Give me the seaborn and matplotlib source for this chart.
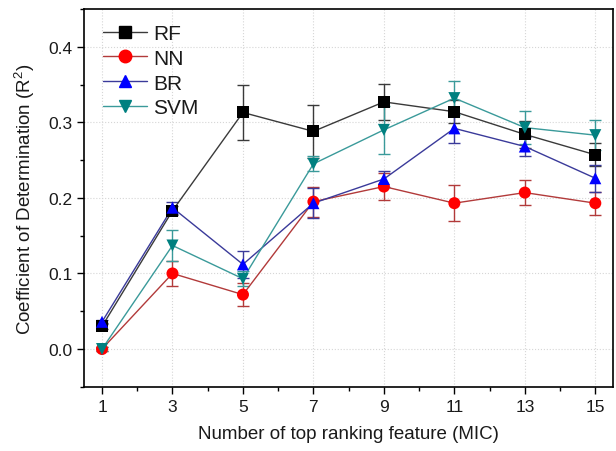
import matplotlib
matplotlib.use("Agg")
from matplotlib import pyplot as plt
from matplotlib.lines import Line2D
from matplotlib.ticker import MultipleLocator
import seaborn as sns
import numpy as np
import pandas as pd

# data
n_features = [1, 3, 5, 7, 9, 11, 13, 15]
rf = [0.030, 0.183, 0.313, 0.288, 0.327, 0.314, 0.284, 0.257]
rf_err = [0.004, 0.006, 0.036, 0.035, 0.024, 0.015, 0.018, 0.015]
nn = [0.000, 0.100, 0.072, 0.195, 0.215, 0.193, 0.207, 0.193]
nn_err = [0.003, 0.017, 0.015, 0.020, 0.018, 0.024, 0.017, 0.015]
br = [0.036, 0.187, 0.112, 0.193, 0.225, 0.292, 0.268, 0.226]
br_err = [0.003, 0.008, 0.018, 0.020, 0.010, 0.020, 0.012, 0.018]
svm = [0.000, 0.137, 0.093, 0.245, 0.290, 0.332, 0.293, 0.283]
svm_err = [0.003, 0.020, 0.010, 0.010, 0.032, 0.022, 0.022, 0.020]

methods = ["RF", "NN", "BR", "SVM"]
values = {"RF": (rf, rf_err), "NN": (nn, nn_err), "BR": (br, br_err), "SVM": (svm, svm_err)}

rows = []
for m in methods:
    for x, v, e in zip(n_features, values[m][0], values[m][1]):
        rows.append({"K": x, "Value": v, "Err": e, "Method": m})
df = pd.DataFrame(rows)

line_col = {"RF": "#3a3a3a", "NN": "#b23a3a", "BR": "#3a3a9a", "SVM": "#3a9a9a"}
mark_col = {"RF": "#000000", "NN": "#ff0000", "BR": "#0000ff", "SVM": "#008080"}
markers = {"RF": "s", "NN": "o", "BR": "^", "SVM": "v"}

sns.set_style("ticks")
plt.rcParams['font.family'] = ['Liberation Sans', 'DejaVu Sans']
plt.rcParams['mathtext.fontset'] = 'custom'
plt.rcParams['mathtext.rm'] = 'Liberation Sans'
plt.rcParams['text.color'] = '#1a1a1a'
plt.rcParams['axes.labelcolor'] = '#1a1a1a'
plt.rcParams['xtick.color'] = 'black'
plt.rcParams['ytick.color'] = 'black'
plt.rcParams['xtick.labelcolor'] = '#1a1a1a'
plt.rcParams['ytick.labelcolor'] = '#1a1a1a'

fig = plt.figure(figsize=(6.16, 4.52), dpi=100)
ax = fig.add_axes([0.137, 0.142, 0.858, 0.836])

ax.grid(True, color="#d6d6d6", linestyle=":", linewidth=0.8)
ax.set_axisbelow(True)

for m in methods:
    sub = df[df.Method == m]
    ax.errorbar(sub.K, sub.Value, yerr=sub.Err, fmt="none",
                ecolor=line_col[m], elinewidth=1, capsize=4, capthick=1, zorder=2)

sns.lineplot(data=df, x="K", y="Value", hue="Method", palette=line_col,
             linewidth=1, legend=False, ax=ax, zorder=3)
sns.scatterplot(data=df, x="K", y="Value", hue="Method", style="Method",
                palette=mark_col, markers=markers, s=75, linewidth=0,
                legend=False, ax=ax, zorder=4)

ax.set_xlim(0.5, 15.5)
ax.set_ylim(-0.05, 0.45)
ax.set_xticks(n_features)
ax.xaxis.set_minor_locator(MultipleLocator(1))
ax.yaxis.set_major_locator(MultipleLocator(0.1))
ax.yaxis.set_minor_locator(MultipleLocator(0.05))
ax.tick_params(which="major", direction="out", length=5, width=1, labelsize=12.5)
ax.tick_params(which="minor", direction="out", length=3, width=1)
for s in ax.spines.values():
    s.set_linewidth(1.2)
    s.set_color("black")
    s.set_visible(True)

ax.set_xlabel("Number of top ranking feature (MIC)", fontsize=13.5, labelpad=8)
ax.set_ylabel("Coefficient of Determination (R$^2$)", fontsize=13.5, labelpad=8)

handles = [Line2D([0], [0], color=line_col[m], lw=1, marker=markers[m],
                  markerfacecolor=mark_col[m], markeredgecolor=mark_col[m],
                  markersize=9) for m in methods]
ax.legend(handles, methods, loc="upper left", frameon=False, fontsize=15,
          handlelength=2.1, handletextpad=0.3, labelspacing=0.28,
          bbox_to_anchor=(0.0, 1.01))

plt.savefig("out.png", dpi=100)
